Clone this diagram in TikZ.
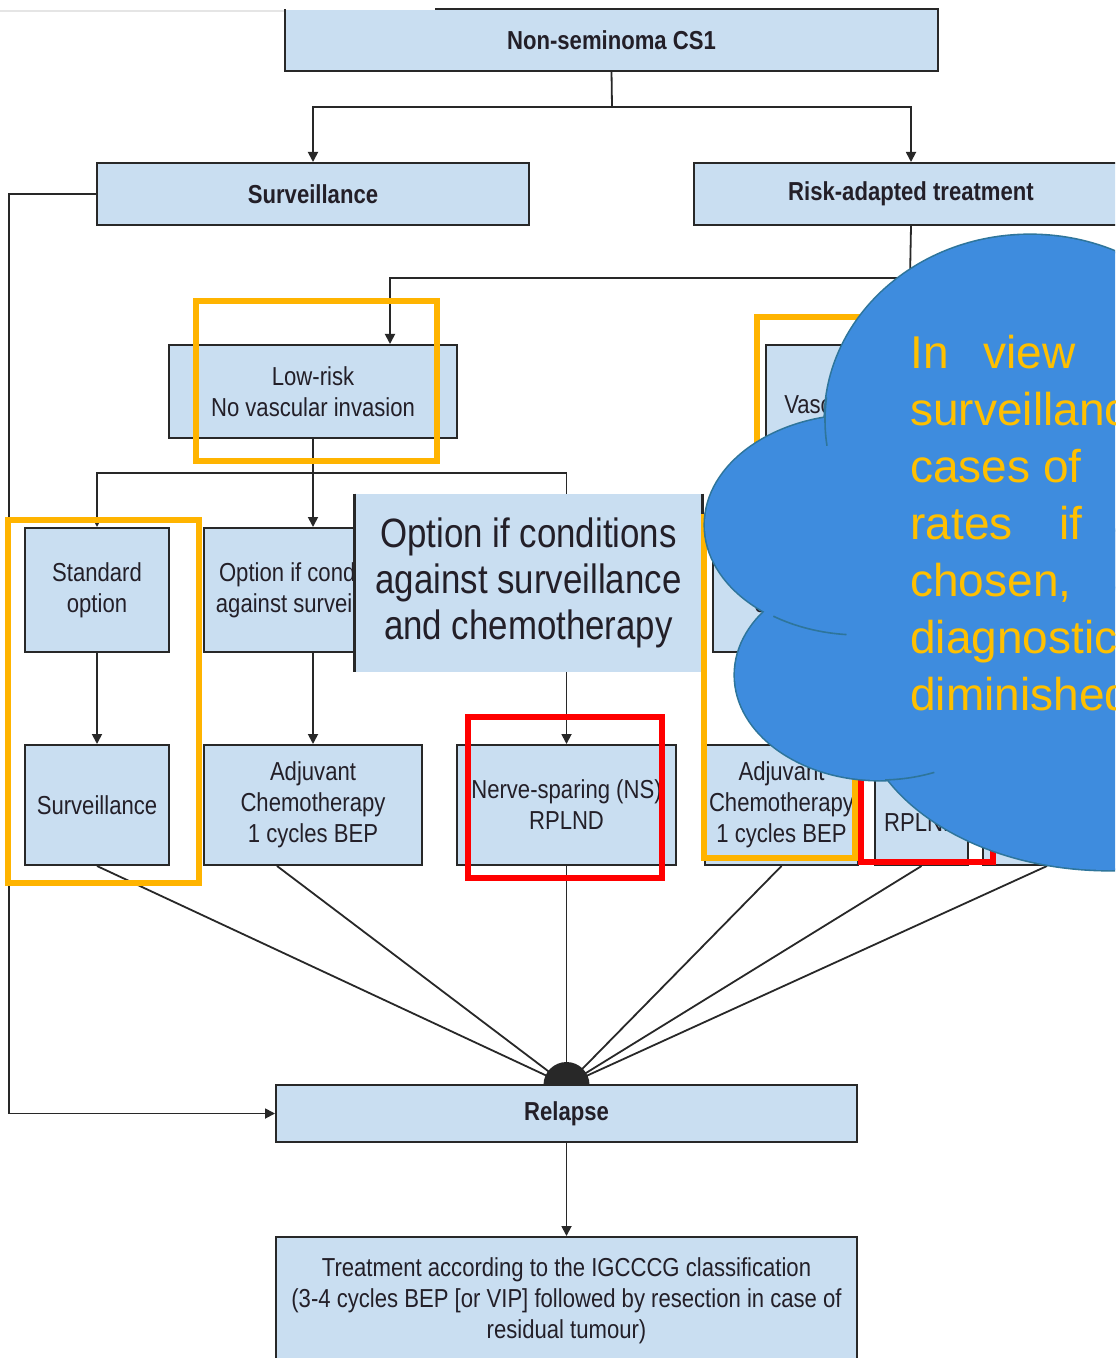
\documentclass[tikz,border=0pt]{standalone}
\usepackage{fontspec}
\setmainfont{Liberation Sans}[FakeStretch=0.85]
\newfontfamily\cloudfont{Liberation Sans}
\usetikzlibrary{arrows.meta}
\definecolor{boxfill}{RGB}{201,222,241}
\definecolor{boxline}{RGB}{40,40,40}
\definecolor{boxtext}{RGB}{35,31,40}
\definecolor{hiorange}{RGB}{255,180,0}
\definecolor{cloudfill}{RGB}{62,140,222}
\definecolor{cloudline}{RGB}{46,117,155}
\definecolor{cloudtext}{RGB}{255,192,0}
\begin{document}
\begin{tikzpicture}[x=0.5pt,y=-0.5pt,
  box/.style={draw=boxline,fill=boxfill,line width=1pt,align=center,inner sep=2pt,text=boxtext,font=\fontsize{13}{15.5}\selectfont},
  head/.style={box,font=\fontsize{13}{15.5}\selectfont\bfseries},
  conn/.style={draw=boxline,line width=0.9pt},
  arr/.style={-{Triangle[length=5pt,width=5pt]}},
  orangebox/.style={draw=hiorange,line width=2.6pt},
  redbox/.style={draw=red,line width=2.8pt}]
\useasboundingbox (0,0) rectangle (1115,1358);
\clip (0,0) rectangle (1115,1358);
\fill[white] (0,0) rectangle (1115,1358);
\draw[gray!20,line width=0.8pt] (0,11) -- (286,11);

\node[head,draw=none,minimum width=325.5pt,minimum height=30pt] (top) at (611.5,40) {Non-seminoma CS1};
\draw[boxline,line width=1pt] ([xshift=75pt]top.north west) -- (top.north east) -- (top.south east) -- (top.south west) -- (top.north west);
\node[head,minimum width=216pt,minimum height=31pt] (surv) at (313,194) {Surveillance};
\node[head,minimum width=217pt,minimum height=31pt] (risk) at (911,194) {Risk-adapted treatment};
\node[box,minimum width=144pt,minimum height=46.5pt] (low) at (313,391.5) {Low-risk\\No vascular invasion};
\node[box,minimum width=144pt,minimum height=46.5pt] (vasc) at (910,391.5) {High-risk\\Vascular invasion present};
\node[box,minimum width=72pt,minimum height=62pt] (std) at (97,590) {Standard\\option};
\node[box,minimum width=109pt,minimum height=62pt] (optL) at (313,590) {Option if conditions\\against surveillance};
\node[box,minimum width=71.5pt,minimum height=62pt] (stdR) at (784.5,590) {Standard\\option};
\node[box,minimum width=72pt,minimum height=60pt] (survB) at (97,805) {Surveillance};
\node[box,minimum width=109pt,minimum height=60pt] (adjL) at (313,805) {Adjuvant\\Chemotherapy\\1 cycles BEP};
\node[box,minimum width=109.5pt,minimum height=60pt] (ns) at (566.5,805) {Nerve-sparing (NS)\\RPLND};
\node[box,minimum width=74.5pt,minimum height=60pt] (adjR) at (781.5,805) {Adjuvant\\Chemotherapy\\1 cycles BEP};
\node[box,minimum width=46.5pt,minimum height=60pt] (rpl) at (921.5,805) {\strut\\RPLND};
\node[box,minimum width=64pt,minimum height=60pt] (last) at (1047,805) {};
\node[head,minimum width=290.5pt,minimum height=28.5pt] (relapse) at (566.5,1113.5) {Relapse};
\node[box,minimum width=290.5pt,minimum height=64pt] (treat) at (566.5,1301) {Treatment according to the IGCCCG classification\\(3-4 cycles BEP [or VIP] followed by resection in case of\\residual tumour)};

\node[fill=boxfill,minimum width=173.5pt,minimum height=89pt,align=center,text=boxtext,font=\fontsize{20.5}{23}\selectfont] (ov) at (528.5,583) {Option if conditions\\against surveillance\\and chemotherapy};
\draw[boxline,line width=1.6pt] (ov.north west) -- (ov.south west) (ov.north east) -- (ov.south east);

\coordinate (s1) at (612,107);
\coordinate (s2) at (910,278);
\coordinate (s3) at (313,473);
\coordinate (loop) at (9,194);
\coordinate (hub) at (566.5,1085);
\draw[conn] (top.south) -- (s1);
\draw[conn,arr] (s1) -| (surv.north);
\draw[conn,arr] (s1) -| (risk.north);
\draw[conn,arr] (surv.west) -- (loop) |- (relapse.west);
\draw[conn] (risk.south) -- (s2);
\draw[conn,arr] (s2) -| ([xshift=38.5pt]low.north);
\draw[conn,arr] (s2) -- (vasc.north);
\draw[conn] (low.south) -- (s3);
\draw[conn,arr] (s3) -- (optL.north);
\draw[conn,arr] (s3) -| (std.north);
\draw[conn] (s3) -| (ns.north |- ov.north);
\draw[conn,arr] (ns.north |- ov.south) -- (ns.north);
\draw[conn,arr] (std) -- (survB);
\draw[conn,arr] (optL) -- (adjL);
\draw[conn,arr] (stdR.south) -- (stdR.south |- adjR.north);
\foreach \b in {survB,ns,adjR,rpl,last}
  \draw[conn] (\b.south) -- (hub);
\draw[conn] ([xshift=-18pt]adjL.south) -- (hub);
\fill[boxline] (hub) ++(-23,0) arc[start angle=180,end angle=360,radius=23] -- cycle;
\draw[conn,arr] (relapse) -- (treat);

\draw[orangebox] (196,301) rectangle (437,461);
\draw[orangebox] (8,520) rectangle (199,883);
\draw[orangebox] (757,317) rectangle (1062,462);
\draw[orangebox] (704,517) rectangle (855,858);
\draw[redbox] (468,717) rectangle (662,878);
\draw[redbox] (861,717) rectangle (993,862);

\foreach \cx/\cy/\rx/\ry in {1030/420/205/185,860/525/155/110,880/675/145/105,1110/700/251/170}
  \draw[cloudline,line width=1.6pt] (\cx,\cy) ellipse[x radius=\rx,y radius=\ry];
\foreach \cx/\cy/\rx/\ry in {1030/420/205/185,860/525/155/110,880/675/145/105,1110/700/251/170}
  \fill[cloudfill] (\cx,\cy) ellipse[x radius=\rx,y radius=\ry];
\fill[cloudfill] (850,420) rectangle (1115,760);
\draw[cloudline,line width=0.8pt] (1030,420) ++(187:205 and 185) arc[start angle=187,end angle=172,x radius=205,y radius=185];
\draw[cloudline,line width=0.8pt] (860,525) ++(124:155 and 110) arc[start angle=124,end angle=95,x radius=155,y radius=110];
\draw[cloudline,line width=0.8pt] (880,675) ++(88:145 and 105) arc[start angle=88,end angle=68,x radius=145,y radius=105];
\node[anchor=north west,inner sep=0pt,align=left,text=cloudtext,font=\cloudfont\fontsize{23}{28.5}\selectfont] (note) at (910,335) {In\hspace{11pt} view\\surveillance\\cases of\\rates\hspace{17pt} if\\chosen,\\diagnostic\\diminished};
\end{tikzpicture}
\end{document}
